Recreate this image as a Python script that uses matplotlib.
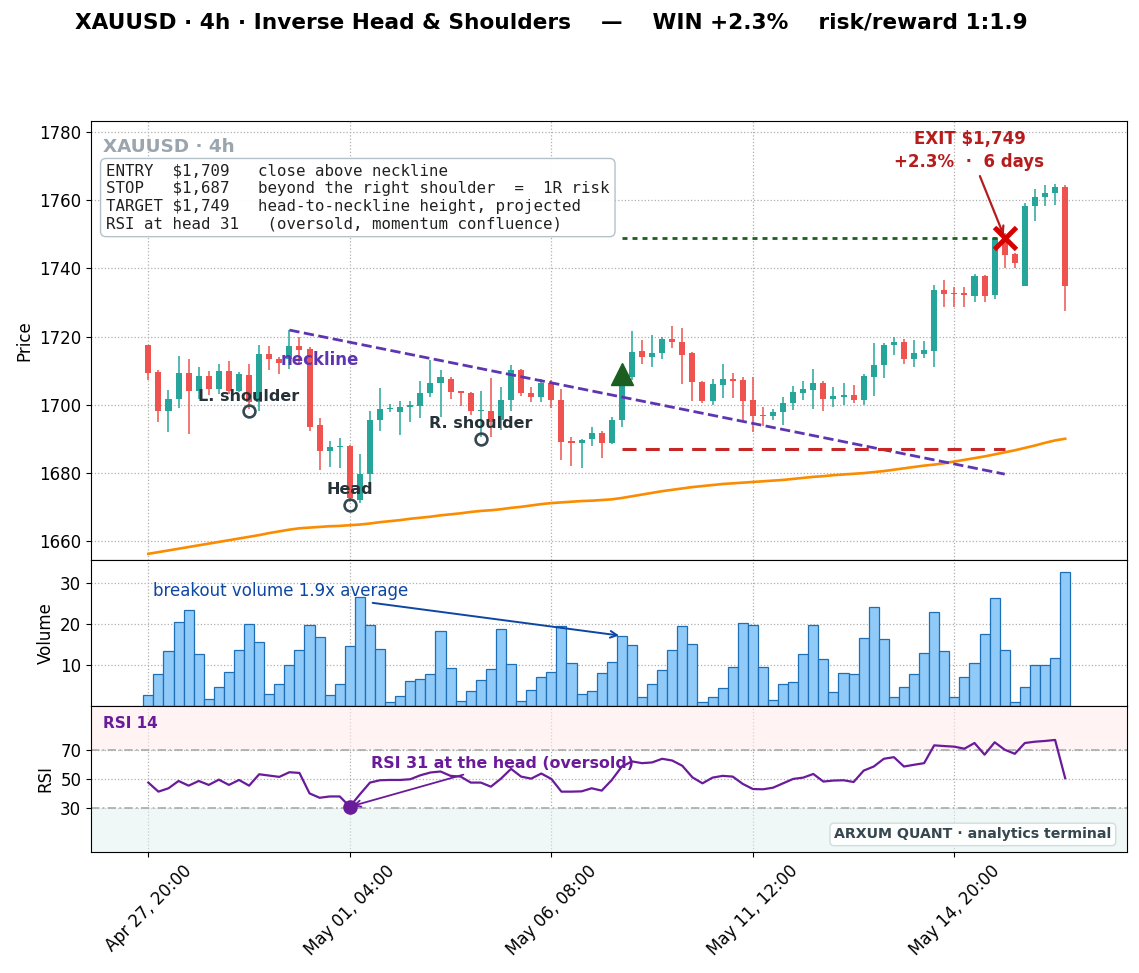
import matplotlib
matplotlib.use("Agg")
import matplotlib.pyplot as plt
import numpy as np

# -- 4h candles, index based x axis (weekend gaps removed) ------------------
OPEN = [1717.4, 1709.5, 1698.0, 1701.6, 1709.4, 1703.9, 1708.5, 1704.5, 1709.9, 1704.1,
        1708.8, 1700.7, 1714.9, 1713.4, 1713.4, 1717.1, 1716.4, 1694.0, 1686.3, 1687.5,
        1688.0, 1672.0, 1679.6, 1695.5, 1698.7, 1697.7, 1699.4, 1699.7, 1703.3, 1706.3,
        1707.6, 1703.9, 1703.5, 1698.0, 1698.2, 1695.6, 1701.5, 1710.2, 1703.5, 1702.2,
        1706.3, 1701.4, 1689.2, 1688.8, 1689.8, 1691.7, 1688.7, 1695.5, 1708.2, 1715.9,
        1713.9, 1715.1, 1719.3, 1718.4, 1715.3, 1706.7, 1701.2, 1705.9, 1707.6, 1707.1,
        1701.3, 1697.0, 1696.7, 1697.7, 1700.4, 1703.5, 1704.3, 1706.5, 1701.6, 1702.3,
        1702.7, 1701.3, 1708.2, 1711.5, 1717.4, 1718.4, 1713.5, 1715.0, 1715.9, 1733.7,
        1732.9, 1732.7, 1731.8, 1737.8, 1732.2, 1749.0, 1744.2, 1734.9, 1758.2, 1761.0,
        1762.0, 1763.9]
HIGH = [1717.6, 1710.2, 1704.3, 1714.3, 1713.4, 1711.0, 1709.8, 1712.0, 1712.9, 1709.5,
        1712.0, 1717.4, 1717.1, 1714.1, 1721.8, 1719.8, 1716.9, 1696.0, 1689.2, 1690.2,
        1688.3, 1685.5, 1698.0, 1704.8, 1700.2, 1701.0, 1701.2, 1706.8, 1713.1, 1710.2,
        1708.2, 1704.1, 1703.7, 1704.1, 1707.8, 1705.1, 1711.5, 1710.5, 1705.1, 1707.6,
        1707.3, 1704.5, 1690.4, 1689.9, 1693.5, 1692.4, 1696.3, 1709.8, 1721.6, 1719.0,
        1720.4, 1720.0, 1723.1, 1722.4, 1715.5, 1706.9, 1707.5, 1712.0, 1709.3, 1708.0,
        1708.2, 1699.3, 1698.8, 1702.3, 1705.6, 1707.0, 1710.6, 1707.0, 1705.1, 1706.5,
        1705.9, 1709.0, 1718.0, 1718.0, 1719.8, 1719.2, 1719.0, 1718.8, 1735.2, 1736.7,
        1734.5, 1734.5, 1738.4, 1738.0, 1749.3, 1750.5, 1744.6, 1759.2, 1763.4, 1764.6,
        1764.9, 1764.6]
LOW = [1707.1, 1694.8, 1692.0, 1699.0, 1691.4, 1701.7, 1702.9, 1703.1, 1703.1, 1703.6,
       1698.7, 1698.2, 1710.2, 1709.0, 1710.5, 1711.5, 1692.4, 1680.8, 1681.6, 1681.4,
       1671.3, 1671.0, 1676.7, 1692.4, 1697.7, 1691.0, 1694.8, 1696.1, 1702.2, 1696.3,
       1701.6, 1699.6, 1696.9, 1690.4, 1690.4, 1692.6, 1698.0, 1702.6, 1700.8, 1700.8,
       1699.0, 1683.7, 1682.0, 1681.3, 1688.0, 1684.3, 1688.5, 1693.5, 1707.3, 1712.0,
       1711.2, 1713.4, 1716.5, 1706.1, 1701.2, 1700.4, 1700.0, 1702.0, 1702.0, 1695.3,
       1691.9, 1693.7, 1695.5, 1694.0, 1698.4, 1701.5, 1698.6, 1698.2, 1699.4, 1699.9,
       1700.4, 1699.9, 1702.4, 1707.7, 1714.6, 1712.0, 1711.0, 1713.6, 1711.2, 1728.6,
       1728.6, 1728.6, 1730.1, 1730.1, 1731.0, 1740.0, 1740.0, 1734.9, 1754.0, 1758.4,
       1758.7, 1727.4]
CLOSE = [1709.2, 1698.0, 1701.8, 1709.4, 1703.9, 1708.5, 1704.5, 1709.9, 1704.1, 1709.1,
         1700.7, 1714.9, 1713.4, 1712.2, 1717.1, 1716.1, 1693.3, 1686.3, 1687.6, 1687.8,
         1672.7, 1679.6, 1695.5, 1698.7, 1698.9, 1699.4, 1700.0, 1703.5, 1706.5, 1708.0,
         1703.7, 1703.5, 1698.0, 1698.3, 1694.8, 1701.5, 1710.2, 1703.3, 1702.2, 1706.5,
         1701.4, 1689.0, 1688.8, 1689.7, 1691.7, 1688.7, 1695.5, 1709.0, 1715.5, 1713.9,
         1715.3, 1719.4, 1718.4, 1714.7, 1706.6, 1701.2, 1706.1, 1707.5, 1706.9, 1701.0,
         1696.7, 1696.7, 1697.7, 1700.4, 1703.6, 1704.7, 1706.5, 1701.8, 1702.5, 1702.8,
         1701.3, 1708.4, 1711.7, 1717.5, 1718.4, 1713.4, 1715.2, 1716.0, 1733.7, 1732.6,
         1732.5, 1732.1, 1737.8, 1732.0, 1748.9, 1744.0, 1741.6, 1758.4, 1761.0, 1762.2,
         1763.9, 1734.7]
VOLUME = [2.7, 7.8, 13.4, 20.5, 23.4, 12.7, 1.7, 4.6, 8.3, 13.7,
          20.0, 15.6, 2.9, 5.4, 10.0, 13.7, 19.8, 16.8, 2.7, 5.4,
          14.6, 26.6, 19.8, 14.0, 1.0, 2.4, 6.1, 6.6, 7.8, 18.3,
          9.3, 1.2, 3.7, 6.3, 9.0, 18.8, 10.2, 1.2, 3.9, 7.1,
          8.3, 19.5, 10.5, 2.9, 3.7, 8.0, 10.7, 17.1, 14.9, 2.2,
          5.4, 8.8, 13.7, 19.5, 15.1, 1.0, 2.2, 4.4, 9.5, 20.2,
          19.8, 9.5, 1.5, 5.4, 5.9, 12.7, 19.8, 11.5, 3.4, 8.0,
          7.8, 16.6, 24.1, 16.3, 2.2, 4.6, 7.8, 12.9, 22.9, 13.4,
          2.2, 7.1, 10.5, 17.6, 26.3, 13.7, 1.0, 4.6, 10.0, 10.0,
          11.7, 32.7]
RSI = [47.5, 41.3, 43.6, 48.6, 45.4, 48.6, 45.9, 49.5, 45.9, 49.3,
       45.4, 53.2, 52.3, 51.4, 54.6, 54.1, 40.1, 37.1, 38.0, 38.0,
       31.0, 39.5, 47.5, 49.1, 49.3, 49.3, 49.8, 52.5, 54.4, 55.1,
       52.1, 51.6, 47.5, 47.5, 44.7, 50.2, 56.9, 51.6, 50.2, 53.7,
       50.0, 41.3, 41.3, 41.5, 43.6, 42.0, 49.3, 58.5, 62.0, 60.8,
       61.3, 63.8, 62.6, 59.0, 51.1, 47.0, 50.9, 52.1, 51.6, 46.6,
       43.1, 42.9, 44.0, 47.0, 50.0, 50.9, 53.4, 48.2, 48.9, 49.1,
       47.9, 55.7, 58.5, 63.8, 64.9, 58.5, 59.7, 60.8, 73.0, 72.5,
       72.1, 70.7, 74.6, 66.6, 75.1, 70.0, 67.2, 74.6, 75.5, 76.0,
       76.7, 50.5]
# slow moving average (orange)
MA = [1656.2, 1656.7, 1657.2, 1657.7, 1658.2, 1658.7, 1659.2, 1659.7, 1660.2, 1660.7,
      1661.2, 1661.7, 1662.3, 1662.8, 1663.3, 1663.7, 1663.9, 1664.1, 1664.3, 1664.4,
      1664.6, 1664.8, 1665.1, 1665.5, 1665.8, 1666.1, 1666.5, 1666.8, 1667.1, 1667.5,
      1667.8, 1668.1, 1668.5, 1668.8, 1669.0, 1669.3, 1669.7, 1670.0, 1670.4, 1670.8,
      1671.1, 1671.3, 1671.5, 1671.7, 1671.8, 1672.0, 1672.2, 1672.6, 1673.1, 1673.6,
      1674.1, 1674.6, 1675.0, 1675.4, 1675.8, 1676.1, 1676.4, 1676.7, 1676.9, 1677.1,
      1677.3, 1677.5, 1677.7, 1677.9, 1678.2, 1678.5, 1678.8, 1679.0, 1679.3, 1679.5,
      1679.7, 1679.9, 1680.2, 1680.5, 1680.9, 1681.3, 1681.7, 1682.1, 1682.4, 1682.8,
      1683.3, 1683.8, 1684.3, 1684.8, 1685.4, 1686.0, 1686.6, 1687.3, 1688.0, 1688.8,
      1689.5, 1690.0]

TICK_POS = [0, 20, 40, 60, 80]
TICK_LABELS = ["Apr 27, 20:00", "May 01, 04:00", "May 06, 08:00",
               "May 11, 12:00", "May 14, 20:00"]

# -- pattern + trade -----------------------------------------------------------
PATTERN_NAMES = ["L. shoulder", "Head", "R. shoulder"]
PATTERN_IDX = [10, 20, 33]
PATTERN_PRICE = [1698.0, 1670.6, 1689.9]

NECK_IDX = [14, 85]
NECK_PRICE = [1721.9, 1679.6]

ENTRY_IDX, EXIT_IDX = 47, 85
ENTRY, STOP, TARGET = 1709, 1687, 1749
RSI_HEAD = 31

TITLE = "XAUUSD · 4h · Inverse Head & Shoulders    —    WIN +2.3%    risk/reward 1:1.9"
INFO = ("ENTRY  $1,709   close above neckline\n"
        "STOP   $1,687   beyond the right shoulder  =  1R risk\n"
        "TARGET $1,749   head-to-neckline height, projected\n"
        "RSI at head 31   (oversold, momentum confluence)")

GREEN = "#26a69a"
RED = "#ef5350"
GRID = dict(linestyle=":", color="#b0b0b0", linewidth=0.9)

plt.rcParams["font.size"] = 12
plt.rcParams["axes.labelsize"] = 12
plt.rcParams["xtick.labelsize"] = 12
plt.rcParams["ytick.labelsize"] = 12

fig = plt.figure(figsize=(11.39, 9.73), dpi=100)
ax1 = fig.add_axes([0.0799, 0.4245, 0.9096, 0.4512])
ax2 = fig.add_axes([0.0799, 0.2744, 0.9096, 0.1501], sharex=ax1)
ax3 = fig.add_axes([0.0799, 0.1244, 0.9096, 0.1501], sharex=ax1)

x = np.arange(len(OPEN))
o, h, l, c = map(np.array, (OPEN, HIGH, LOW, CLOSE))
cols = np.where(c >= o, GREEN, RED)

# ------------------------------------------------------------------
# price panel
# ------------------------------------------------------------------
ax1.grid(True, **GRID)
ax1.set_axisbelow(True)
ax1.vlines(x, l, h, color=cols, lw=1.1, zorder=2)
ax1.bar(x, np.maximum(np.abs(c - o), 0.35), bottom=np.minimum(o, c),
        width=0.6, color=cols, zorder=3)
ax1.plot(x, MA, color="#fb8c00", lw=1.9, zorder=2)

ax1.plot(NECK_IDX, NECK_PRICE, "--", color="#5e35b1", lw=2, zorder=4)
ax1.text(13.1, 1713.1, "neckline", color="#5e35b1", fontsize=12,
         fontweight="bold", ha="left", va="center", zorder=5)

ax1.plot(PATTERN_IDX, PATTERN_PRICE, "o", ms=8.5, mfc="none", mec="#37474f",
         mew=1.9, zorder=5)
for name, px, py in zip(PATTERN_NAMES, PATTERN_IDX, PATTERN_PRICE):
    ax1.annotate(name, (px, py), xytext=(0, 11), textcoords="offset points",
                 ha="center", va="center", fontsize=11.5, fontweight="bold",
                 color="#263238", zorder=5)

ax1.plot([ENTRY_IDX, EXIT_IDX], [STOP, STOP], color="#c62828", lw=2.2,
         dashes=(4.6, 3.0), zorder=4)
ax1.plot([ENTRY_IDX, EXIT_IDX], [TARGET, TARGET], color="#1b5e20", lw=2,
         dashes=(1.8, 1.8), zorder=4)
ax1.plot(ENTRY_IDX, ENTRY, marker="^", ms=16, color="#1b5e20", zorder=6)
ax1.plot(EXIT_IDX, TARGET, marker="x", ms=16, mew=3.5, color="#d50000", zorder=6)
ax1.annotate("EXIT $1,749\n+2.3%  ·  6 days", xy=(EXIT_IDX, TARGET),
             xytext=(81.5, 1774.7), ha="center", va="center", fontsize=12,
             fontweight="bold", color="#b71c1c", linespacing=1.35,
             arrowprops=dict(arrowstyle="->", color="#b71c1c", lw=1.6))

ax1.text(0.0116, 0.941, "XAUUSD · 4h", transform=ax1.transAxes, fontsize=13.2,
         fontweight="bold", color="#9aa5ae", ha="left", va="center")
ax1.text(0.0145, 0.902, INFO, transform=ax1.transAxes, family="DejaVu Sans Mono",
         fontsize=11.3, linespacing=1.2, ha="left", va="top", color="#212121",
         bbox=dict(boxstyle="round,pad=0.35", fc="white", ec="#b0bec5", alpha=0.95))

ax1.set_ylim(1654.4, 1783.3)
ax1.set_yticks(np.arange(1660, 1781, 20))
ax1.set_ylabel("Price")
ax1.tick_params(labelbottom=False)

# ------------------------------------------------------------------
# volume panel
# ------------------------------------------------------------------
ax2.grid(True, **GRID)
ax2.set_axisbelow(True)
ax2.bar(x, VOLUME, width=1.0, color="#90caf9", edgecolor="#1f6fb4", lw=0.9)
ax2.annotate("breakout volume 1.9x average", xy=(ENTRY_IDX, VOLUME[ENTRY_IDX]),
             xytext=(0.5, 28.1), ha="left", va="center", fontsize=12,
             color="#0d47a1",
             arrowprops=dict(arrowstyle="->", color="#0d47a1", lw=1.4))
ax2.set_ylim(0, 35.6)
ax2.set_yticks([10, 20, 30])
ax2.set_ylabel("Volume")
ax2.tick_params(labelbottom=False)

# ------------------------------------------------------------------
# RSI panel
# ------------------------------------------------------------------
ax3.axhspan(70, 100, color="#ffebee", alpha=0.6, lw=0)
ax3.axhspan(0, 30, color="#e0f2f1", alpha=0.5, lw=0)
ax3.grid(True, **GRID)
ax3.set_axisbelow(True)
for lvl in (70, 30):
    ax3.axhline(lvl, color="#aaaaaa", lw=1.2, dashes=(5, 2, 1, 2))
ax3.plot(x, RSI, color="#6a1b9a", lw=1.6)
ax3.plot(PATTERN_IDX[1], RSI_HEAD, "o", ms=9.5, color="#6a1b9a", zorder=5)
ax3.annotate("RSI 31 at the head (oversold)", xy=(PATTERN_IDX[1], RSI_HEAD),
             xytext=(22.1, 60.5), ha="left", va="center", fontsize=11.4,
             fontweight="bold", color="#6a1b9a",
             arrowprops=dict(arrowstyle="->", color="#6a1b9a", lw=1.3))
ax3.text(0.0116, 0.877, "RSI 14", transform=ax3.transAxes, fontsize=11,
         fontweight="bold", color="#6a1b9a", ha="left", va="center")
ax3.text(0.985, 0.12, "ARXUM QUANT · analytics terminal", transform=ax3.transAxes,
         fontsize=10.2, fontweight="bold", color="#37474f", ha="right", va="center",
         bbox=dict(boxstyle="round,pad=0.3", fc="white", ec="#cfd8dc", alpha=0.9))
ax3.set_ylim(0, 100)
ax3.set_yticks([30, 50, 70])
ax3.set_ylabel("RSI")

ax3.set_xlim(-5.69, 97.14)
ax3.set_xticks(TICK_POS)
ax3.set_xticklabels(TICK_LABELS, rotation=45)

fig.text(0.484, 0.977, TITLE, ha="center", va="center", fontsize=15.6,
         fontweight="bold")

fig.savefig("out.png", dpi=100)
